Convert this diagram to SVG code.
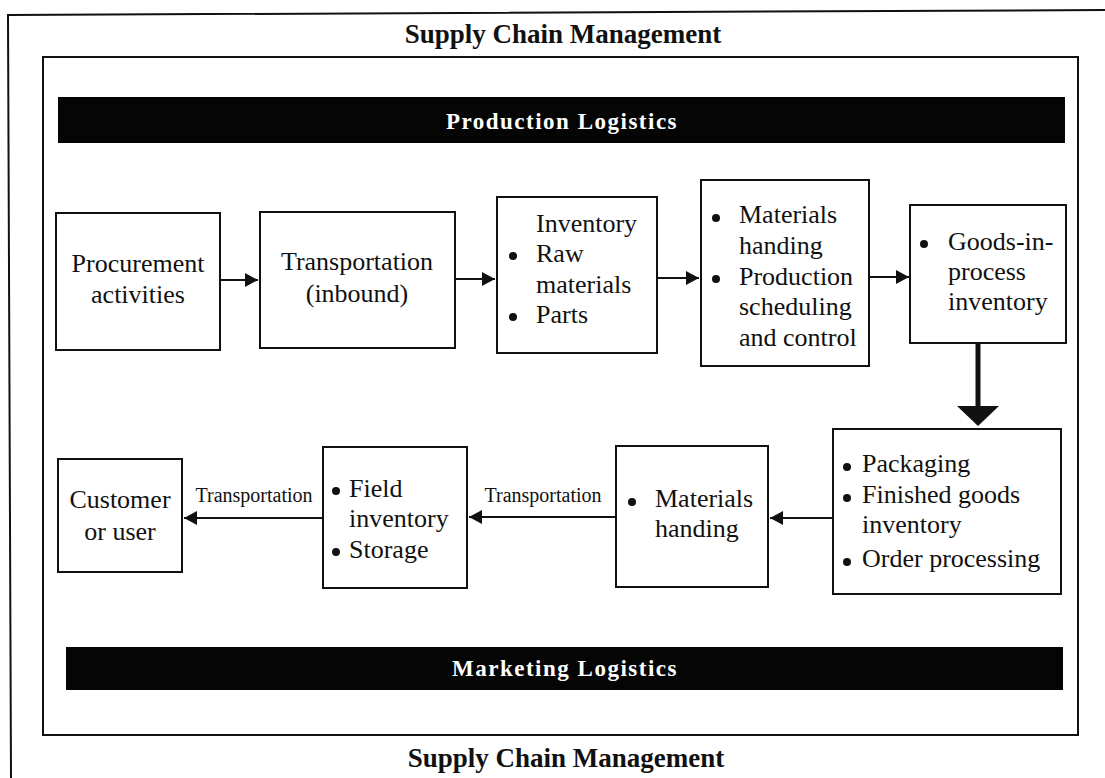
<svg xmlns="http://www.w3.org/2000/svg" width="1105" height="778" viewBox="0 0 1105 778">
<style>
.frame{fill:none;stroke:#111;stroke-width:2}
.box{fill:#fff;stroke:#111;stroke-width:2}
.bar{fill:#050505}
.t{font-family:"Liberation Serif","Times New Roman",serif;font-size:26px;fill:#111}
.c{text-anchor:middle}
.title{font-family:"Liberation Serif","Times New Roman",serif;font-size:27px;font-weight:bold;fill:#111;text-anchor:middle}
.bartext{font-family:"Liberation Serif","Times New Roman",serif;font-size:23px;font-weight:bold;fill:#fff;text-anchor:middle;letter-spacing:1.5px}
.lbl{font-family:"Liberation Serif","Times New Roman",serif;font-size:20px;fill:#111;text-anchor:middle}
.con{fill:none;stroke:#111;stroke-width:2;marker-end:url(#ah)}
.dot{fill:#111}
</style>
<defs>
<marker id="ah" markerUnits="userSpaceOnUse" markerWidth="14" markerHeight="14" refX="13" refY="7" orient="auto">
<path d="M0,0 L13,7 L0,14 z" fill="#111"/>
</marker>
</defs>
<rect width="1105" height="778" fill="#fff"/>
<g id="frame">
<path class="frame" d="M1105,10 L8,15 L11,778"/>
<rect class="frame" x="43" y="57" width="1035" height="678"/>
<text class="title" x="563" y="43">Supply Chain Management</text>
<text class="title" x="566" y="767">Supply Chain Management</text>
</g>
<g id="production-logistics">
<rect class="bar" x="58" y="97" width="1007" height="46"/>
<text class="bartext" x="562" y="129">Production Logistics</text>
</g>
<g id="marketing-logistics">
<rect class="bar" x="66" y="647" width="997" height="43"/>
<text class="bartext" x="565" y="676">Marketing Logistics</text>
</g>
<g id="connectors">
<path class="con" d="M220,280 H258"/>
<path class="con" d="M455,279 H495"/>
<path class="con" d="M657,278 H699"/>
<path class="con" d="M869,277 H909"/>
<path d="M978,343 V408" fill="none" stroke="#111" stroke-width="5"/>
<polygon points="957,406 999,406 978,426" fill="#111"/>
<path class="con" d="M833,518 H770"/>
<path class="con" d="M616,517 H469"/>
<path class="con" d="M323,518 H184"/>
<text class="lbl" x="254" y="502">Transportation</text>
<text class="lbl" x="543" y="502">Transportation</text>
</g>
<g id="procurement">
<rect class="box" x="56" y="213" width="164" height="137"/>
<text class="t c" x="138" y="272">Procurement</text>
<text class="t c" x="138" y="303">activities</text>
</g>
<g id="transport-inbound">
<rect class="box" x="260" y="212" width="195" height="136"/>
<text class="t c" x="357" y="270">Transportation</text>
<text class="t c" x="357" y="302">(inbound)</text>
</g>
<g id="inventory">
<rect class="box" x="497" y="197" width="160" height="156"/>
<text class="t" x="536" y="232">Inventory</text>
<circle class="dot" cx="513" cy="256" r="4"/>
<text class="t" x="536" y="262">Raw</text>
<text class="t" x="536" y="293">materials</text>
<circle class="dot" cx="513" cy="317" r="4"/>
<text class="t" x="536" y="323">Parts</text>
</g>
<g id="materials-production">
<rect class="box" x="701" y="180" width="168" height="186"/>
<circle class="dot" cx="716" cy="218" r="4"/>
<text class="t" x="739" y="223">Materials</text>
<text class="t" x="739" y="254">handing</text>
<circle class="dot" cx="716" cy="279" r="4"/>
<text class="t" x="739" y="285">Production</text>
<text class="t" x="739" y="315">scheduling</text>
<text class="t" x="739" y="346">and control</text>
</g>
<g id="goods-in-process">
<rect class="box" x="910" y="205" width="156" height="138"/>
<circle class="dot" cx="924" cy="244" r="4"/>
<text class="t" x="948" y="250">Goods-in-</text>
<text class="t" x="948" y="280">process</text>
<text class="t" x="948" y="310">inventory</text>
</g>
<g id="packaging">
<rect class="box" x="833" y="429" width="228" height="165"/>
<circle class="dot" cx="847" cy="467" r="4"/>
<text class="t" x="862" y="472">Packaging</text>
<circle class="dot" cx="847" cy="498" r="4"/>
<text class="t" x="862" y="503">Finished goods</text>
<text class="t" x="862" y="533">inventory</text>
<circle class="dot" cx="847" cy="562" r="4"/>
<text class="t" x="862" y="567">Order processing</text>
</g>
<g id="materials-handing">
<rect class="box" x="616" y="446" width="152" height="141"/>
<circle class="dot" cx="632" cy="502" r="4"/>
<text class="t" x="655" y="507">Materials</text>
<text class="t" x="655" y="537">handing</text>
</g>
<g id="field-inventory">
<rect class="box" x="323" y="447" width="144" height="141"/>
<circle class="dot" cx="336" cy="491" r="4"/>
<text class="t" x="349" y="497">Field</text>
<text class="t" x="349" y="527">inventory</text>
<circle class="dot" cx="336" cy="552" r="4"/>
<text class="t" x="349" y="558">Storage</text>
</g>
<g id="customer">
<rect class="box" x="58" y="459" width="124" height="113"/>
<text class="t c" x="120" y="508">Customer</text>
<text class="t c" x="120" y="540">or user</text>
</g>
</svg>
